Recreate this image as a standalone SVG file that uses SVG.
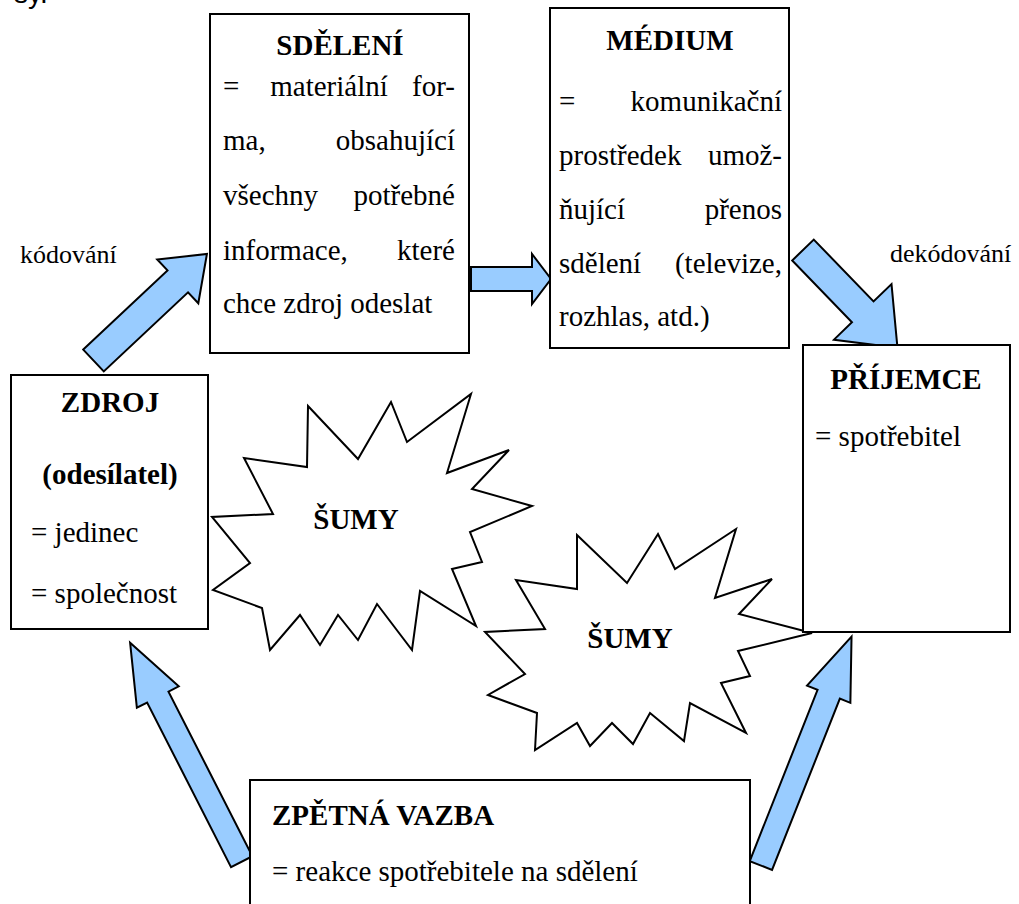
<svg xmlns="http://www.w3.org/2000/svg" width="1019" height="904" viewBox="0 0 1019 904" font-family="Liberation Serif, Tinos, DejaVu Serif, serif">
<style>
.box{fill:#fff;stroke:#000;stroke-width:2}
.burst{fill:#fff;stroke:#000;stroke-width:2;stroke-linejoin:miter}
.arrow{fill:#99CCFF;stroke:#000;stroke-width:2;stroke-linejoin:miter}
.t{font-family:Liberation Serif, Tinos, DejaVu Serif, serif;font-size:29px;fill:#000}
.b{font-weight:bold}
.m{text-anchor:middle}
.e{text-anchor:end}
.lbl{font-size:26px}
</style>
<rect width="1019" height="904" fill="#fff"/>
<text x="14" y="3" font-family="Liberation Sans, Arial, sans-serif" font-size="28">sy.</text>

<g id="connectors">
  <polygon class="arrow" transform="translate(93.5,360.5) rotate(-43.2)" points="0,-15 115.6,-15 115.6,-30 155.6,0 115.6,30 115.6,15 0,15"/>
  <polygon class="arrow" points="471,267 532,267 532,254 551,279 532,304 532,291 471,291"/>
  <polygon class="arrow" transform="translate(803,250) rotate(46)" points="0,-15 86,-15 86,-40 136,0 86,40 86,15 0,15"/>
  <polygon class="arrow" transform="translate(241.7,861.7) rotate(-117)" points="0,-12 184.8,-12 184.8,-23.5 245.8,0 184.8,23.5 184.8,12 0,12"/>
  <polygon class="arrow" transform="translate(760.9,865.5) rotate(-68.4)" points="0,-12 184.2,-12 184.2,-23.3 246.2,0 184.2,23.3 184.2,12 0,12"/>
</g>

<g id="sumy1">
  <polygon class="burst" points="308,406 358,459 391,402 407,442 471,394 447,473 509,450 472,489 532,506 470,532 482,562 452,569 476,626 420,591 412,650 377,604 358,640 338,615 320,645 300,615 270,650 262,608 213,590 250,563 212,517 273,514 244,458 307,467"/>
  <text class="t b m" x="356" y="529">ŠUMY</text>
</g>

<g id="sumy2">
  <polygon class="burst" points="577,535 627,583 658,534 675,569 736,529 715,598 772,579 739,614 812,633 738,651 750,676 721,683 746,733 690,703 684,741 650,713 633,744 612,723 590,746 577,723 535,750 537,713 488,695 525,674 485,632 545,629 516,580 577,589"/>
  <text class="t b m" x="630" y="648">ŠUMY</text>
</g>

<g id="sdeleni">
  <rect class="box" x="210" y="14" width="259" height="339"/>
  <text class="t b m" x="340" y="55">SDĚLENÍ</text>
  <text class="t" x="223" y="96">=</text><text class="t m" x="329" y="96">materiální</text><text class="t e" x="455" y="96">for-</text>
  <text class="t" x="223" y="150">ma,</text><text class="t e" x="455" y="150">obsahující</text>
  <text class="t" x="223" y="205">všechny</text><text class="t e" x="455" y="205">potřebné</text>
  <text class="t" x="223" y="260">informace,</text><text class="t e" x="455" y="260">které</text>
  <text class="t" x="223" y="313">chce zdroj odeslat</text>
</g>

<g id="medium">
  <rect class="box" x="550" y="8" width="239" height="340"/>
  <text class="t b m" x="670" y="50">MÉDIUM</text>
  <text class="t" x="559" y="111">=</text><text class="t e" x="782" y="111">komunikační</text>
  <text class="t" x="559" y="165">prostředek</text><text class="t e" x="782" y="165">umož-</text>
  <text class="t" x="559" y="219">ňující</text><text class="t e" x="782" y="219">přenos</text>
  <text class="t" x="559" y="273">sdělení</text><text class="t e" x="782" y="273">(televize,</text>
  <text class="t" x="559" y="326">rozhlas, atd.)</text>
</g>

<g id="kodovani"><text class="t lbl" x="20" y="263">kódování</text></g>
<g id="dekodovani"><text class="t lbl" x="890" y="262">dekódování</text></g>

<g id="zdroj">
  <rect class="box" x="11" y="375" width="197" height="254"/>
  <text class="t b m" x="110" y="412">ZDROJ</text>
  <text class="t b m" x="110" y="484">(odesílatel)</text>
  <text class="t" x="31" y="542">= jedinec</text>
  <text class="t" x="31" y="603">= společnost</text>
</g>

<g id="prijemce">
  <rect class="box" x="803" y="345" width="207" height="287"/>
  <text class="t b m" x="906" y="389">PŘÍJEMCE</text>
  <text class="t" x="815" y="446">= spotřebitel</text>
</g>

<g id="zpetna">
  <rect class="box" x="250" y="780" width="500" height="140"/>
  <text class="t b" x="272" y="825">ZPĚTNÁ VAZBA</text>
  <text class="t" x="272" y="881">= reakce spotřebitele na sdělení</text>
</g>
</svg>
